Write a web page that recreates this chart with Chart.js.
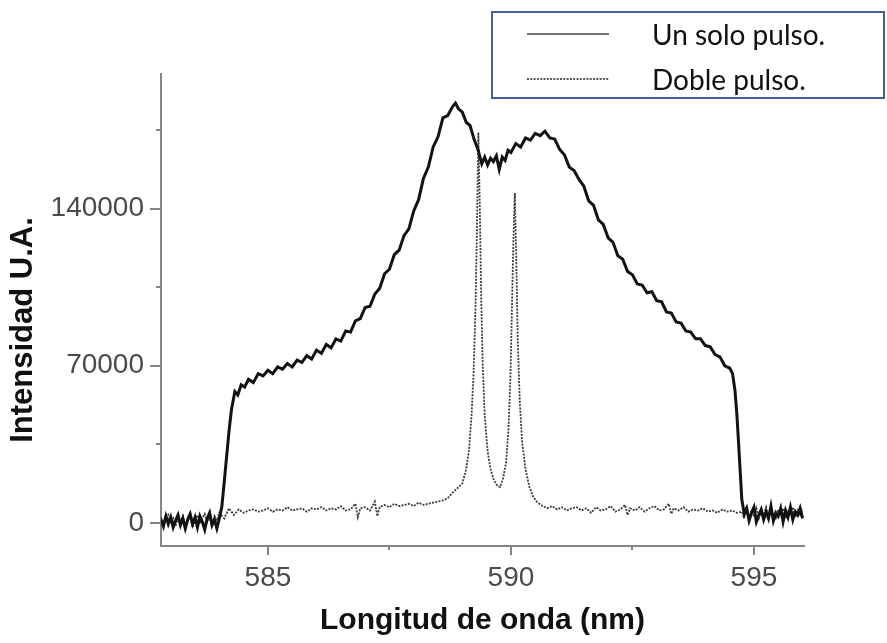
<!DOCTYPE html>
<html lang="es">
<head>
<meta charset="utf-8">
<title>Intensidad vs longitud de onda</title>
<script src="https://cdn.jsdelivr.net/npm/chart.js@4.4.1/dist/chart.umd.min.js"></script>
<style>
  html, body { margin: 0; padding: 0; background: #fff; }
  #wrap { position: relative; width: 887px; height: 643px; }
</style>
</head>
<body>
<div id="wrap"><canvas id="espectro" width="887" height="643"></canvas></div>
<script>
// Espectro: un solo pulso vs doble pulso
// valores leídos a mano de la figura original (nm, U.A.)

// ────────── datos ──────────

var soloX = [
  582.80, 582.85, 582.90, 582.95, 583.00, 583.05, 583.10, 583.15, 583.20, 583.25,
  583.30, 583.35, 583.40, 583.45, 583.50, 583.55, 583.60, 583.65, 583.70, 583.75,
  583.80, 583.85, 583.90, 583.95, 584.00,
  584.05, 584.10, 584.15, 584.20, 584.25, 584.32, 584.38, 584.45, 584.52, 584.60,
  584.70, 584.80, 584.90,
  585.00, 585.10, 585.20, 585.30, 585.40, 585.50, 585.60, 585.70, 585.80, 585.90,
  586.00, 586.10, 586.20, 586.30, 586.40, 586.50, 586.60, 586.70, 586.80, 586.90,
  587.00, 587.10, 587.20, 587.30, 587.40, 587.50, 587.60, 587.70, 587.80, 587.90,
  588.00, 588.10, 588.20, 588.30, 588.40, 588.50, 588.60, 588.70, 588.80, 588.86, 588.92,
  589.00, 589.08, 589.16, 589.24, 589.32, 589.40, 589.46, 589.52, 589.58, 589.64,
  589.70, 589.76, 589.82, 589.88, 589.94,
  590.00, 590.10, 590.20, 590.30, 590.40, 590.50, 590.60, 590.70, 590.80, 590.90,
  591.00, 591.10, 591.20, 591.30, 591.40, 591.50, 591.60, 591.70, 591.80, 591.90,
  592.00, 592.10, 592.20, 592.30, 592.40, 592.50, 592.60, 592.70, 592.80, 592.90,
  593.00, 593.10, 593.20, 593.30, 593.40, 593.50, 593.60, 593.70, 593.80, 593.90,
  594.00, 594.10, 594.20, 594.30, 594.40, 594.50, 594.56, 594.61, 594.65, 594.68,
  594.72, 594.75, 594.80, 594.85, 594.90, 594.95,
  595.00, 595.05, 595.10, 595.15, 595.20, 595.25, 595.30, 595.35, 595.40, 595.45,
  595.50, 595.55, 595.60, 595.65, 595.70, 595.75, 595.80, 595.85, 595.90, 595.95, 596.00
];
var soloY = [
  1500, -1500, 3000, -500, 2500, -2000, 1000, 3500, -1000, 2000,
  -2500, 1500, 4000, -500, 2500, -2000, 3000, 500, -3000, 2000,
  4500, -1000, 1500, -2500, 2000,
  7000, 18000, 29500, 41000, 50500, 58500, 57000, 61500, 60500, 64000,
  62500, 66500, 65500,
  68000, 66500, 69500, 68500, 71000, 69500, 72500, 71500, 74500, 73000,
  77000, 75500, 79500, 78000, 82000, 81000, 85500, 85000, 90000, 91000,
  96000, 96500, 102000, 104500, 111000, 113000, 119500, 121500, 128000, 131000,
  139000, 144000, 153500, 158500, 167500, 172000, 180500, 181500, 185500, 187000, 184500,
  183000, 178500, 177000, 171000, 166500, 160000, 163000, 159500, 162500, 161000,
  163500, 157500, 163000, 161500, 166000,
  165000, 169000, 167500, 171500, 170500, 173500, 172500, 174500, 171500, 171000,
  166500, 164000, 158500, 157000, 153000, 150000, 143500, 141500, 135000, 133000,
  127000, 125000, 119000, 117500, 112000, 110500, 106500, 106000, 102500, 103000,
  99000, 98500, 94000, 93500, 89500, 89000, 85500, 85000, 82000, 82000,
  79000, 78500, 75000, 74000, 70000, 69000, 66500, 59000, 48000, 37000,
  22000, 10500, 4000, 6500, 1000, 4500,
  7000, 500, 3500, 6000, 1500, 5000, 2000, 7500, 1000, 4500,
  3000, 6500, 500, 5500, 2500, 7000, 1500, 5000, 3500, 6500, 2000
];

var dobleX = [
  582.80, 582.85, 582.90, 582.95, 583.00, 583.05, 583.10, 583.15, 583.20, 583.25,
  583.30, 583.35, 583.40, 583.45, 583.50, 583.55, 583.60, 583.65, 583.70, 583.75,
  583.80, 583.85, 583.90, 583.95, 584.00,
  584.10, 584.20, 584.30, 584.40, 584.50, 584.60, 584.70, 584.80, 584.90,
  585.00, 585.10, 585.20, 585.30, 585.40, 585.50, 585.60, 585.70, 585.80, 585.90,
  586.00, 586.10, 586.20, 586.30, 586.40, 586.50, 586.60, 586.70, 586.80, 586.85, 586.90,
  587.00, 587.10, 587.20, 587.25, 587.30, 587.40, 587.50, 587.60, 587.70, 587.80, 587.90,
  588.00, 588.10, 588.20, 588.30, 588.40, 588.50, 588.60, 588.70, 588.80, 588.90,
  589.00, 589.08, 589.14, 589.19, 589.23, 589.27, 589.30, 589.33, 589.36, 589.39,
  589.42, 589.46, 589.52, 589.58, 589.65, 589.72, 589.78, 589.84, 589.90, 589.95,
  589.99, 590.02, 590.05, 590.08, 590.11, 590.14, 590.18, 590.23, 590.30, 590.38,
  590.46, 590.55, 590.65, 590.75, 590.85, 590.95,
  591.05, 591.15, 591.25, 591.35, 591.45, 591.55, 591.65, 591.75, 591.85, 591.95,
  592.05, 592.15, 592.25, 592.35, 592.40, 592.45, 592.55, 592.65, 592.75, 592.85, 592.95,
  593.05, 593.15, 593.25, 593.30, 593.35, 593.45, 593.55, 593.65, 593.75, 593.85, 593.95,
  594.05, 594.15, 594.25, 594.35, 594.45, 594.55, 594.65, 594.75, 594.80, 594.85, 594.90, 594.95,
  595.00, 595.05, 595.10, 595.15, 595.20, 595.25, 595.30, 595.35, 595.40, 595.45,
  595.50, 595.55, 595.60, 595.65, 595.70, 595.75, 595.80, 595.85, 595.90, 595.95, 596.00
];
var dobleY = [
  2500, -500, 1500, 3500, 0, 2000, -1500, 2500, 500, 3000,
  -1000, 1500, 2500, -2000, 1000, 3500, -500, 2000, 4000, 500,
  2500, -1500, 3000, 1000, 4500,
  2000, 6500, 3500, 6000, 4500, 5500, 6000, 5000, 5500,
  6500, 5000, 6000, 5500, 7000, 5500, 6000, 6500, 5000, 6500,
  6000, 7000, 5500, 6500, 6000, 7500, 5500, 6000, 8500, 2500, 6500,
  7000, 5500, 9500, 3000, 7000, 8000, 7000, 8500, 7500, 8000, 8500,
  7500, 9000, 8000, 8500, 9000, 9500, 10000, 11000, 13500, 15500,
  17500, 24000, 33000, 48000, 66000, 95000, 130000, 174000, 140000, 98000,
  70000, 48000, 32000, 24000, 19000, 16500, 16000, 20000, 27000, 42000,
  65000, 95000, 125000, 147000, 118000, 82000, 55000, 36000, 24000, 16000,
  11500, 9000, 7500, 6500, 7500, 6000,
  7000, 5500, 6500, 7000, 5500, 6500, 4500, 7000, 5500, 6000,
  7500, 5000, 6000, 8000, 3500, 6500, 5500, 7000, 5000, 6500, 7500,
  5500, 6000, 8500, 4000, 6500, 5500, 7000, 5000, 6000, 5500, 6500,
  5000, 5500, 4500, 6000, 5000, 5500, 4500, 5000, 2000, 7500, 1500, 5500,
  3000, 6500, 2000, 5000, 3500, 7000, 2500, 5500, 4000, 1500,
  6000, 3500, 6500, 2000, 5000, 4500, 7000, 2500, 5500, 3000, 6000
];

var etiquetas = ['Un solo pulso.', 'Doble pulso.'];

// marcas de los ejes: las mayores llevan número
var xTicksMayores = [585, 590, 595];
var xTicksMenores = [587.5, 592.5];
var yTicksMayores = [0, 70000, 140000];
var yTicksMenores = [35000, 105000, 175000];

// ────────── estilo ──────────

var EJE_COLOR = '#858585';
var TEXTO_TICK = '#4a4a4a';
var FUENTE = "'Liberation Sans', Arial, Helvetica, sans-serif";

function puntos(xs, ys) {
  return xs.map(function (x, i) { return { x: x, y: ys[i] }; });
}

function fijarTicks(mayores, menores) {
  return function (scale) {
    scale.ticks = mayores.concat(menores)
      .sort(function (a, b) { return a - b; })
      .map(function (v) { return { value: v }; });
  };
}

// marcas cortas/largas, título vertical y leyenda con recuadro
var decoracion = {
  id: 'decoracion',
  afterDraw: function (chart) {
    var ctx = chart.ctx;
    var xs = chart.scales.x;
    var ys = chart.scales.y;
    var area = chart.chartArea;
    ctx.save();

    ctx.strokeStyle = EJE_COLOR;
    ctx.lineWidth = 2;
    ctx.beginPath();
    ys.ticks.forEach(function (t) {
      var py = Math.round(ys.getPixelForValue(t.value));
      var len = yTicksMayores.indexOf(t.value) >= 0 ? 11 : 5;
      ctx.moveTo(area.left - len, py);
      ctx.lineTo(area.left, py);
    });
    xs.ticks.forEach(function (t) {
      var px = Math.round(xs.getPixelForValue(t.value));
      var len = xTicksMayores.indexOf(t.value) >= 0 ? 9 : 4;
      ctx.moveTo(px, area.bottom);
      ctx.lineTo(px, area.bottom + len);
    });
    ctx.stroke();

    // título del eje y
    ctx.fillStyle = '#111';
    ctx.font = 'bold 31px ' + FUENTE;
    ctx.textAlign = 'center';
    ctx.textBaseline = 'middle';
    ctx.translate(23, 330);
    ctx.rotate(-Math.PI / 2);
    ctx.fillText('Intensidad U.A.', 0, 0);
    ctx.setTransform(1, 0, 0, 1, 0, 0);

    // leyenda
    ctx.strokeStyle = '#41618f';
    ctx.lineWidth = 2;
    ctx.strokeRect(492, 12, 392, 86);

    var ds = chart.data.datasets;
    var filas = [34, 79];
    ctx.font = "28px Lato, 'Open Sans', sans-serif";
    ctx.textAlign = 'left';
    ctx.textBaseline = 'middle';
    ds.forEach(function (d, i) {
      ctx.beginPath();
      ctx.strokeStyle = i === 0 ? '#444' : '#222';
      ctx.lineWidth = 1.5;
      ctx.setLineDash(d.borderDash || []);
      ctx.moveTo(527, filas[i]);
      ctx.lineTo(609, filas[i]);
      ctx.stroke();
      ctx.setLineDash([]);
      ctx.fillStyle = '#111';
      ctx.fillText(d.label, 652, filas[i] + 2);
    });

    ctx.restore();
  }
};

// ────────── gráfico ──────────

new Chart(document.getElementById('espectro'), {
  type: 'line',
  data: {
    datasets: [
      {
        label: etiquetas[0],
        data: puntos(soloX, soloY),
        borderColor: '#121212',
        borderWidth: 3,
        pointRadius: 0,
        tension: 0,
        fill: false
      },
      {
        label: etiquetas[1],
        data: puntos(dobleX, dobleY),
        borderColor: '#3c3c3c',
        borderWidth: 1.8,
        borderDash: [2, 1.3],
        pointRadius: 0,
        tension: 0,
        fill: false
      }
    ]
  },
  options: {
    responsive: false,
    animation: false,
    events: [],
    layout: { padding: { top: 74, right: 83, bottom: 0, left: 0 } },
    plugins: {
      legend: { display: false },
      tooltip: { enabled: false }
    },
    scales: {
      x: {
        type: 'linear',
        min: 582.8,
        max: 596.03,
        afterBuildTicks: fijarTicks(xTicksMayores, xTicksMenores),
        afterFit: function (scale) { scale.height = 97; },
        grid: { drawOnChartArea: false, drawTicks: false },
        border: { display: true, color: EJE_COLOR, width: 2 },
        ticks: {
          autoSkip: false,
          maxRotation: 0,
          padding: 15,
          color: TEXTO_TICK,
          font: { family: FUENTE, size: 28 },
          callback: function (v) { return xTicksMayores.indexOf(v) >= 0 ? String(v) : ''; }
        },
        title: {
          display: true,
          text: 'Longitud de onda (nm)',
          color: '#111',
          font: { family: FUENTE, size: 30, weight: 'bold' },
          padding: { top: 0, bottom: 4 }
        }
      },
      y: {
        type: 'linear',
        min: -10300,
        max: 200000,
        afterBuildTicks: fijarTicks(yTicksMayores, yTicksMenores),
        afterFit: function (scale) { scale.width = 161; },
        grid: { drawOnChartArea: false, drawTicks: false },
        border: { display: true, color: EJE_COLOR, width: 2 },
        ticks: {
          autoSkip: false,
          padding: 17,
          color: TEXTO_TICK,
          font: { family: FUENTE, size: 28 },
          callback: function (v) { return yTicksMayores.indexOf(v) >= 0 ? String(v) : ''; }
        }
      }
    }
  },
  plugins: [decoracion]
});
</script>
</body>
</html>
